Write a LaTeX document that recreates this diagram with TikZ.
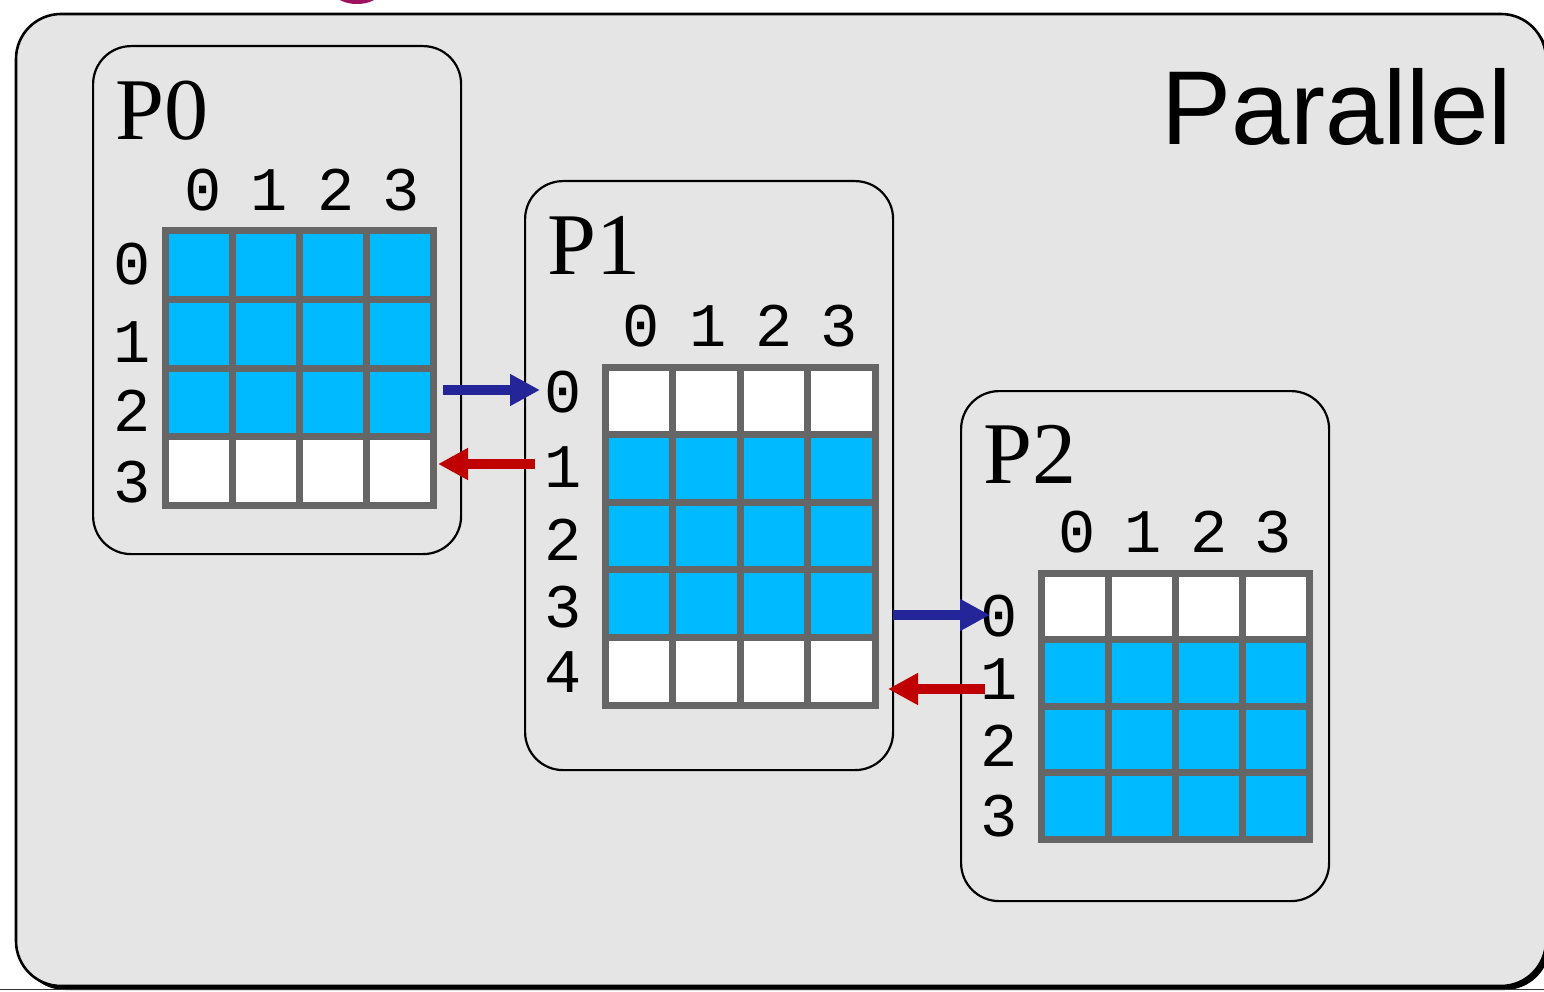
\documentclass[tikz,border=0pt]{standalone}
\usepackage{fontspec}
\setmainfont{Liberation Serif}
\newfontfamily\monof{Liberation Mono}
\newfontfamily\sansf{Liberation Sans}
\usetikzlibrary{arrows.meta}
\definecolor{bgfill}{HTML}{E5E5E5}
\definecolor{cellblue}{HTML}{00BAFF}
\definecolor{gridgray}{HTML}{666666}
\definecolor{arrblue}{HTML}{25259A}
\definecolor{arrred}{HTML}{C00000}
\definecolor{blobcol}{HTML}{9E1262}
\tikzset{
  cell/.style={draw=gridgray, line width=7pt},
  procbox/.style={draw=black, line width=2.2pt, fill=bgfill, rounded corners=38pt, inner sep=0pt, anchor=north west},
  monolab/.style={inner sep=0pt, anchor=base, font=\monof\fontsize{62}{62}\selectfont},
  ptitle/.style={inner sep=0pt, anchor=base west, font=\fontsize{88}{88}\selectfont},
  bluearrow/.style={draw=arrblue, line width=10pt, -{Triangle[length=30pt,width=30pt]}},
  redarrow/.style={draw=arrred, line width=10pt, -{Triangle[length=30pt,width=30pt]}},
}
\begin{document}
\begin{tikzpicture}[x=1pt,y=-1pt]
\useasboundingbox (0,0) rectangle (1544,992);
\begin{scope}
\clip (0,0) rectangle (1544,992);
\fill[blobcol] (357,-7) ellipse (22pt and 11pt);
\fill[black, rounded corners=45pt] (20,18) rectangle (1550,990);
\draw[black, line width=2.6pt, fill=bgfill, rounded corners=45pt] (16,14) rectangle (1546,986);
\draw[black!80, line width=1.2pt] (0,989.5) -- (1544,989.5);
\end{scope}

% process boxes
\node[procbox, minimum width=368pt, minimum height=508pt] (P0box) at (92,45) {};
\node[procbox, minimum width=368pt, minimum height=589pt] (P1box) at (524,180) {};
\node[procbox, minimum width=368pt, minimum height=510pt] (P2box) at (960,390) {};

\node[anchor=base east, inner sep=0pt, font=\sansf\fontsize{105}{105}\selectfont] (partitle) at (1512,145) {Parallel};

% titles
\node[ptitle] (P0t) at (115,140) {P0};
\node[ptitle] (P1t) at (547,275) {P1};
\node[ptitle] (P2t) at (983,483) {P2};

% P0 grid
\foreach \r/\c in {0/cellblue,1/cellblue,2/cellblue,3/white}
  \foreach \k in {0,...,3}
    \draw[cell, fill=\c] ({165+67*\k},{231+68.5*\r}) rectangle ++(67,68.5);
% P1 grid
\foreach \r/\c in {0/white,1/cellblue,2/cellblue,3/cellblue,4/white}
  \foreach \k in {0,...,3}
    \draw[cell, fill=\c] ({605+67.5*\k},{367+67.6*\r}) rectangle ++(67.5,67.6);
% P2 grid
\foreach \r/\c in {0/white,1/cellblue,2/cellblue,3/cellblue}
  \foreach \k in {0,...,3}
    \draw[cell, fill=\c] ({1041+67*\k},{573+66.5*\r}) rectangle ++(67,66.5);

% P0 labels
\foreach \k/\x in {0/203,1/269,2/336,3/401}
  \node[monolab] (p0c\k) at (\x,211) {\k};
\foreach \k/\y in {0/284,1/362,2/431,3/502}
  \node[monolab] (p0r\k) at (132,\y) {\k};
% P1 labels
\foreach \k/\x in {0/641,1/708,2/774,3/839}
  \node[monolab] (p1c\k) at (\x,346) {\k};
\foreach \k/\y in {0/412,1/487,2/560,3/627,4/692}
  \node[monolab] (p1r\k) at (563,\y) {\k};
% P2 labels
\foreach \k/\x in {0/1077,1/1143,2/1209,3/1273}
  \node[monolab] (p2c\k) at (\x,552) {\k};
\foreach \k/\y in {0/636,1/699,2/766,3/836}
  \node[monolab] (p2r\k) at (999,\y) {\k};

% arrows
\coordinate (a1s) at (443,390);
\coordinate (a1e) at (540,390);
\coordinate (a2s) at (535,464);
\coordinate (a2e) at (438,464);
\coordinate (a3s) at (893,615);
\coordinate (a3e) at (990,615);
\coordinate (a4s) at (985,689);
\coordinate (a4e) at (888,689);
\draw[bluearrow] (a1s) -- (a1e);
\draw[redarrow] (a2s) -- (a2e);
\draw[bluearrow] (a3s) -- (a3e);
\draw[redarrow] (a4s) -- (a4e);
\end{tikzpicture}
\end{document}
